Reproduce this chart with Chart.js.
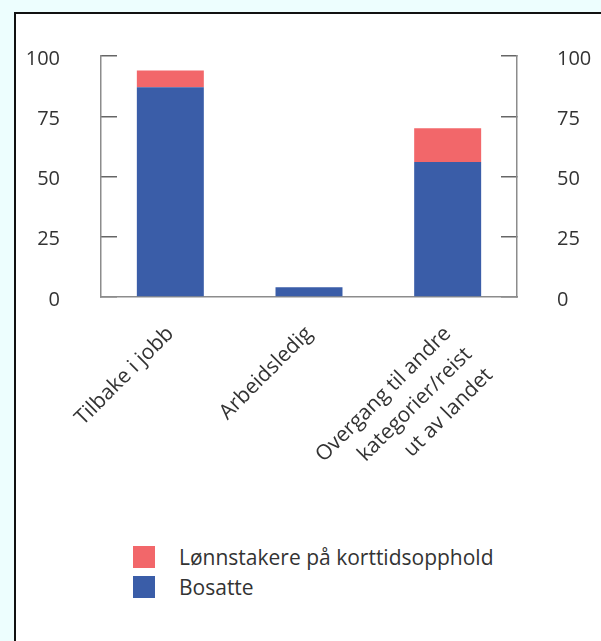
<!DOCTYPE html>
<html lang="no">
<head>
  <meta charset="UTF-8" />
  <title>Bosatte og lønnstakere på korttidsopphold</title>
  <script src="https://cdn.jsdelivr.net/npm/chart.js"></script>
  <style>
    body {
      margin: 0;
      width: 601px;
      height: 641px;
      overflow: hidden;
      background: #edfefe;
      font-family: 'Open Sans', Arial, sans-serif;
    }
    .frame {
      position: absolute;
      left: 14px;
      top: 12px;
      right: 0;
      bottom: 0;
      background: #ffffff;
      border-left: 2px solid #111;
      border-top: 2px solid #111;
    }
    canvas {
      position: absolute;
      left: 0;
      top: 0;
    }
    #legend {
      position: absolute;
      left: 117px;
      top: 528px;
      margin: 0;
      padding: 0;
      list-style: none;
    }
    #legend li {
      display: flex;
      align-items: center;
      height: 30px;
      font-size: 21px;
      color: #333;
    }
    #legend .box {
      width: 22px;
      height: 22px;
      margin-right: 24px;
    }
  </style>
</head>
<body>
  <div class="frame">
    <canvas id="chart" width="585" height="500"></canvas>
    <ul id="legend"></ul>
  </div>

  <script>
    const categories = [
      'Tilbake i jobb',
      'Arbeidsledig',
      ['Overgang til andre', 'kategorier/reist', 'ut av landet']
    ];
    const bosatte = [87, 4, 56];
    const korttid = [7, 0, 14];
    const yTicks = [0, 25, 50, 75, 100];

    const BLUE = '#3a5da8';
    const RED = '#f2676a';
    const AXIS = '#8c8c8c';
    const TICK = '#666666';
    const TEXT = '#333333';
    const FAMILY = "'Open Sans', Arial, sans-serif";

    // left/right value axes share the same setup, ticks point inward
    function valueAxis(position, pad, width) {
      return {
        type: 'linear',
        position: position,
        stacked: true,
        min: 0,
        max: 100,
        afterBuildTicks: (scale) => { scale.ticks = yTicks.map(v => ({ value: v })); },
        afterFit: (scale) => {
          scale.width = width;
          // the big label padding should not push the plot area down
          scale.paddingTop = 12;
          scale.paddingBottom = 12;
        },
        border: { display: true, color: AXIS, width: 1.5 },
        grid: { drawOnChartArea: false, drawTicks: true, tickLength: -16, color: TICK, lineWidth: 1.5 },
        ticks: { color: TEXT, font: { family: FAMILY, size: 20 }, padding: pad, labelOffset: 3 }
      };
    }

    const chart = new Chart(document.getElementById('chart'), {
      type: 'bar',
      data: {
        labels: categories,
        datasets: [
          { label: 'Bosatte', data: bosatte, backgroundColor: BLUE },
          { label: 'Lønnstakere på korttidsopphold', data: korttid, backgroundColor: RED }
        ]
      },
      options: {
        responsive: false,
        animation: false,
        layout: { padding: { top: 42, left: 0, right: 0, bottom: 0 } },
        datasets: { bar: { categoryPercentage: 1, barPercentage: 0.483 } },
        scales: {
          x: {
            stacked: true,
            afterFit: (scale) => { scale.height = 217; },
            border: { display: true, color: AXIS, width: 1.5 },
            grid: { display: false },
            ticks: {
              color: TEXT,
              font: { family: FAMILY, size: 21, lineHeight: 1.4 },
              minRotation: 45,
              maxRotation: 45,
              padding: 15,
              autoSkip: false
            }
          },
          y: valueAxis('left', 57, 85),
          y2: valueAxis('right', 56, 84)
        },
        plugins: {
          legend: { display: false },
          tooltip: { enabled: false }
        }
      }
    });

    // legend as a vertical list, top series first
    const legendEl = document.getElementById('legend');
    chart.options.plugins.legend.labels.generateLabels(chart).reverse().forEach(item => {
      const li = document.createElement('li');
      li.innerHTML = `<span class="box" style="background:${item.fillStyle}"></span>${item.text}`;
      legendEl.appendChild(li);
    });
  </script>
</body>
</html>
